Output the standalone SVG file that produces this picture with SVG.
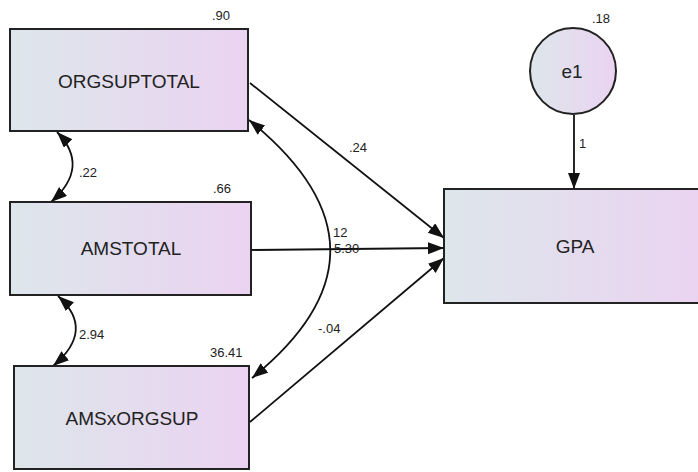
<svg xmlns="http://www.w3.org/2000/svg" width="698" height="472" viewBox="0 0 698 472">
<defs>
<linearGradient id="g" x1="0" y1="0" x2="1" y2="0">
<stop offset="0" stop-color="#dde6eb"/>
<stop offset="1" stop-color="#ebd3f1"/>
</linearGradient>
<marker id="ah" markerUnits="userSpaceOnUse" markerWidth="18" markerHeight="14" refX="16" refY="6" orient="auto-start-reverse">
<path d="M0,0 L16,6 L0,12 z" fill="#111"/>
</marker>
</defs>
<style>
.box{fill:url(#g);stroke:#222;stroke-width:2}
.lbl{font-family:"Liberation Sans",Arial,sans-serif;font-size:19px;fill:#222;text-anchor:middle}
.num{font-family:"Liberation Sans",Arial,sans-serif;font-size:13px;fill:#222}
.c{fill:none;stroke:#111;stroke-width:1.8}
</style>
<rect width="698" height="472" fill="#fff"/>
<g id="connectors">
<line class="c" x1="250" y1="83" x2="444" y2="238" marker-end="url(#ah)"/>
<line class="c" x1="252" y1="250" x2="444" y2="248" marker-end="url(#ah)"/>
<line class="c" x1="250" y1="422" x2="444" y2="258" marker-end="url(#ah)"/>
<line class="c" x1="574" y1="115" x2="574" y2="189" marker-end="url(#ah)"/>
<path class="c" d="M249,120 Q410,250 252,378" marker-start="url(#ah)" marker-end="url(#ah)"/>
<path class="c" d="M57,132 Q91,167 51,202" marker-start="url(#ah)" marker-end="url(#ah)"/>
<path class="c" d="M58,296 Q96,330 53,366" marker-start="url(#ah)" marker-end="url(#ah)"/>
<text class="num" x="349" y="152">.24</text>
<text class="num" x="333" y="237">12</text>
<text class="num" x="334" y="253">5.30</text>
<text class="num" x="318" y="333">-.04</text>
<text class="num" x="79" y="177">.22</text>
<text class="num" x="79" y="339">2.94</text>
<text class="num" x="579" y="148">1</text>
</g>
<g id="orgsuptotal">
<rect class="box" x="10" y="29" width="238" height="102"/>
<text class="lbl" x="129" y="88">ORGSUPTOTAL</text>
<text class="num" x="212" y="20">.90</text>
</g>
<g id="amstotal">
<rect class="box" x="10" y="202" width="241" height="93"/>
<text class="lbl" x="131" y="255">AMSTOTAL</text>
<text class="num" x="213" y="193">.66</text>
</g>
<g id="amsxorgsup">
<rect class="box" x="14" y="366" width="235" height="103"/>
<text class="lbl" x="132" y="425">AMSxORGSUP</text>
<text class="num" x="210" y="357">36.41</text>
</g>
<g id="gpa">
<rect class="box" x="444" y="189" width="262" height="114"/>
<text class="lbl" x="575" y="253">GPA</text>
</g>
<g id="e1">
<circle cx="573" cy="71" r="43" fill="url(#g)" stroke="#222" stroke-width="2"/>
<text class="lbl" x="572" y="78">e1</text>
<text class="num" x="592" y="23">.18</text>
</g>
</svg>
